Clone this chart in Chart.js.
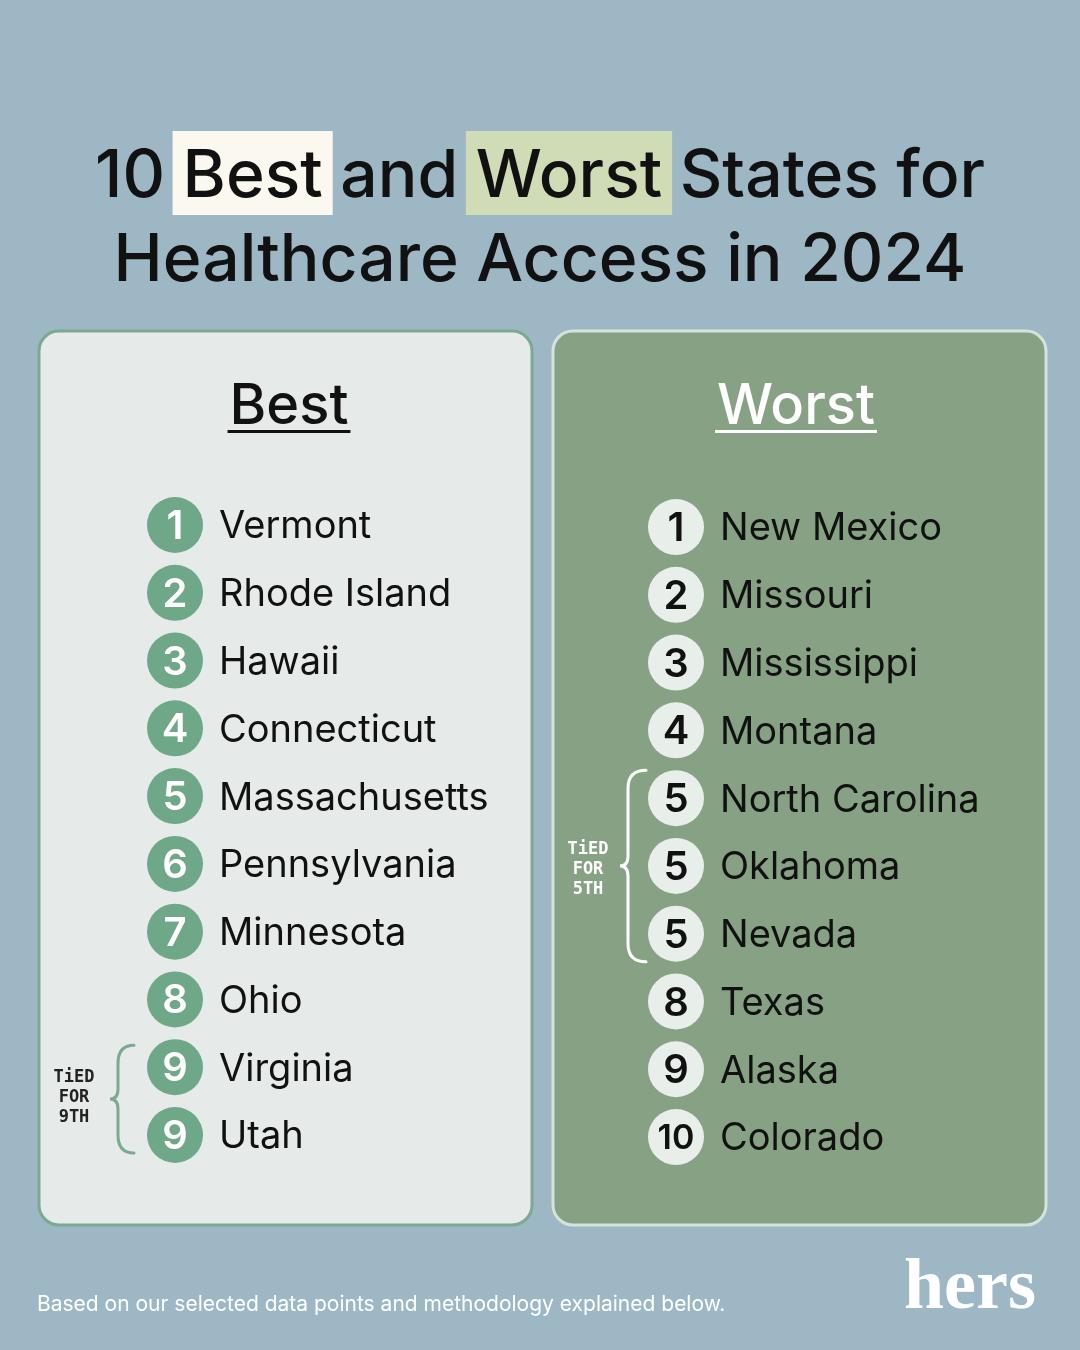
<!DOCTYPE html>
<html><head><meta charset="utf-8">
<script src="https://cdn.jsdelivr.net/npm/chart.js@4.4.1/dist/chart.umd.min.js"></script>
<style>html,body{margin:0;padding:0;background:#9db8c4}canvas{display:block}</style>
</head><body>
<div style="width:1080px;height:1350px"><canvas id="c" width="1080" height="1350"></canvas></div>
<script>
const bestStates = ["Vermont","Rhode Island","Hawaii","Connecticut","Massachusetts","Pennsylvania","Minnesota","Ohio","Virginia","Utah"];
const bestRanks = [1,2,3,4,5,6,7,8,9,9];
const worstStates = ["New Mexico","Missouri","Mississippi","Montana","North Carolina","Oklahoma","Nevada","Texas","Alaska","Colorado"];
const worstRanks = [1,2,3,4,5,5,5,8,9,10];

const FONT = "Inter, 'Noto Sans', sans-serif";

function rr(ctx,x,y,w,h,r){ctx.beginPath();ctx.moveTo(x+r,y);ctx.arcTo(x+w,y,x+w,y+h,r);ctx.arcTo(x+w,y+h,x,y+h,r);ctx.arcTo(x,y+h,x,y,r);ctx.arcTo(x,y,x+w,y,r);ctx.closePath();}
function brace(ctx,x,y1,y2,w){const m=(y1+y2)/2;ctx.beginPath();ctx.moveTo(x+w,y1);ctx.quadraticCurveTo(x,y1,x,y1+18);ctx.lineTo(x,m-10);ctx.quadraticCurveTo(x,m,x-8,m);ctx.quadraticCurveTo(x,m,x,m+10);ctx.lineTo(x,y2-18);ctx.quadraticCurveTo(x,y2,x+w,y2);ctx.stroke();}

const deco = {
  id:'deco',
  beforeDraw(chart){
    const ctx=chart.ctx;ctx.save();
    ctx.fillStyle='#9db8c4';ctx.fillRect(0,0,1080,1350);
    ctx.font='500 66px '+FONT;ctx.textBaseline='alphabetic';
    const parts=[["10 ",null],["Best","#fbf8f0"],[" and ",null],["Worst","#cfdcb6"],[" States for",null]];
    let total=parts.reduce((s,p)=>s+ctx.measureText(p[0]).width,0);
    let x=540-total/2;
    parts.forEach(p=>{const w=ctx.measureText(p[0]).width;
      if(p[1]){ctx.fillStyle=p[1];ctx.fillRect(x-10,131,w+20,84);}
      ctx.fillStyle='#111';ctx.fillText(p[0],x,197);x+=w;});
    ctx.textAlign='center';ctx.fillText('Healthcare Access in 2024',540,281);
    ctx.lineWidth=3;
    rr(ctx,39,331,493,894,20);ctx.fillStyle='#e6eae8';ctx.fill();ctx.strokeStyle='#7aaa8f';ctx.stroke();
    rr(ctx,553,331,493,894,20);ctx.fillStyle='#87a184';ctx.fill();ctx.strokeStyle='#d6e2dc';ctx.stroke();
    ctx.font='500 56px '+FONT;ctx.textAlign='center';
    ctx.fillStyle='#111';ctx.fillText('Best',289,424);
    let w=ctx.measureText('Best').width;ctx.fillRect(289-w/2-2,430,w+4,3);
    ctx.fillStyle='#fff';ctx.fillText('Worst',796,424);
    w=ctx.measureText('Worst').width;ctx.fillRect(796-w/2-2,430,w+4,3);
    ctx.textAlign='left';ctx.font='21px '+FONT;ctx.fillStyle='#fff';
    ctx.fillText('Based on our selected data points and methodology explained below.',37,1311);
    ctx.font='bold 72px "Liberation Serif", "DejaVu Serif", serif';ctx.textAlign='center';
    ctx.fillText('hers',970,1308);
    ctx.restore();
  },
  afterDatasetsDraw(chart){
    const ctx=chart.ctx;ctx.save();
    [[0,bestStates,bestRanks,'#fff','#111'],[1,worstStates,worstRanks,'#111','#111']].forEach(([di,names,ranks,numCol,txtCol])=>{
      const meta=chart.getDatasetMeta(di);
      meta.data.forEach((pt,i)=>{
        ctx.textBaseline='middle';ctx.textAlign='center';
        ctx.font=(ranks[i]>=10?'600 34px ':'600 40px ')+FONT;ctx.fillStyle=numCol;
        ctx.fillText(String(ranks[i]),pt.x,pt.y+2);
        ctx.textAlign='left';ctx.font='400 38px '+FONT;ctx.fillStyle=txtCol;
        ctx.fillText(names[i],pt.x+44,pt.y+2);
      });
    });
    const b=chart.getDatasetMeta(0).data, r=chart.getDatasetMeta(1).data;
    ctx.lineWidth=3;ctx.lineCap='round';
    ctx.strokeStyle='#7aaa8f';brace(ctx,118,b[8].y-22,b[9].y+18,16);
    ctx.strokeStyle='#fff';brace(ctx,628,r[4].y-28,r[6].y+28,18);
    ctx.font='600 17px "DejaVu Sans Mono", monospace';ctx.textAlign='center';ctx.textBaseline='middle';
    ctx.fillStyle='#222';['TiED','FOR','9TH'].forEach((t,i)=>ctx.fillText(t,74,b[8].y+10+i*20));
    ctx.fillStyle='#fff';['TiED','FOR','5TH'].forEach((t,i)=>ctx.fillText(t,588,r[5].y-16+i*20));
    ctx.restore();
  }
};

new Chart(document.getElementById('c'),{
  type:'scatter',
  data:{datasets:[
    {data:bestRanks.map((_,i)=>({x:0,y:i})),clip:false,pointRadius:28,pointHoverRadius:28,backgroundColor:'#6ea888',borderWidth:0},
    {data:worstRanks.map((_,i)=>({x:1,y:i+0.03})),clip:false,pointRadius:28,pointHoverRadius:28,backgroundColor:'#e8efea',borderWidth:0}
  ]},
  plugins:[deco],
  options:{responsive:false,animation:false,events:[],
    layout:{padding:{left:175,right:404,top:525,bottom:215}},
    plugins:{legend:{display:false},tooltip:{enabled:false}},
    scales:{x:{type:'linear',min:0,max:1,display:false},y:{type:'linear',min:0,max:9,reverse:true,display:false}}}
});
</script></body></html>
